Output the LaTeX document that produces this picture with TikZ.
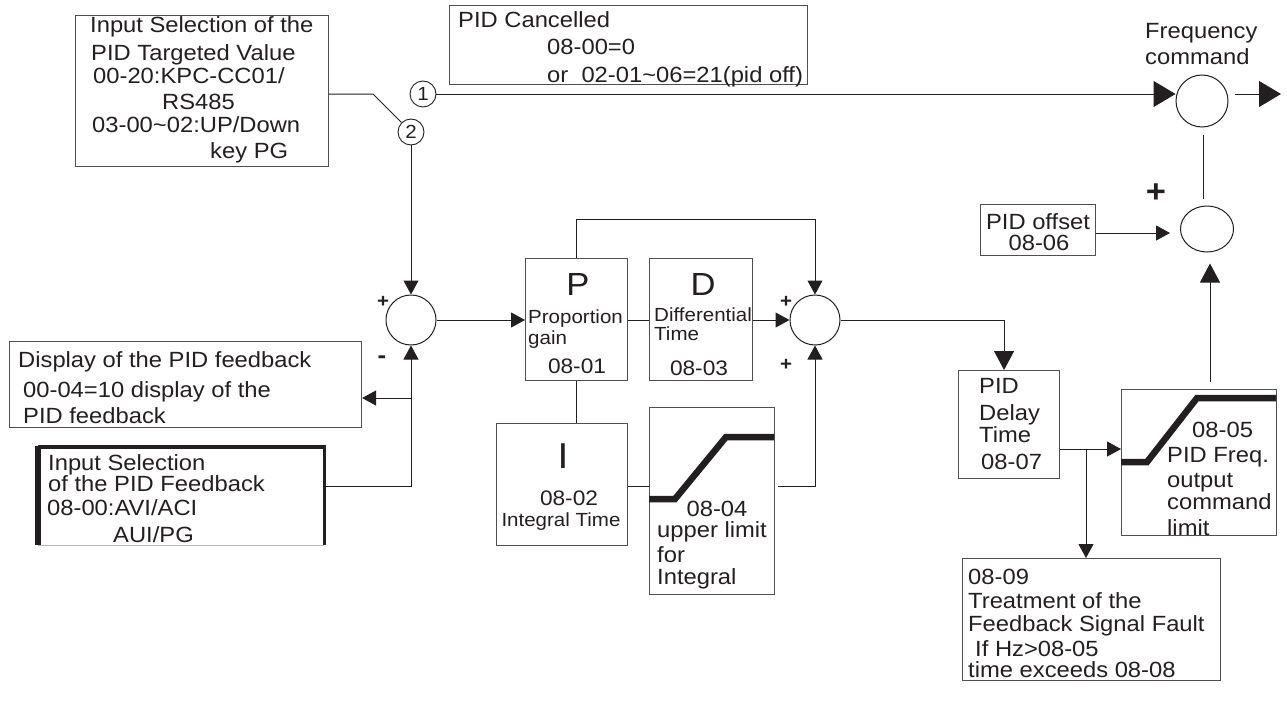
\documentclass[tikz,border=0pt]{standalone}
\usepackage{fontspec}
\setmainfont{Liberation Sans}[FakeStretch=1.08]
\usetikzlibrary{arrows.meta,shapes.geometric,calc}
\definecolor{ink}{HTML}{231F20}
\definecolor{edge}{HTML}{505050}
\begin{document}
\begin{tikzpicture}[x=1pt,y=-1pt,
  box/.style={draw=edge,line width=1.1pt,inner sep=0pt,anchor=north west},
  txt/.style={inner sep=0pt,anchor=base west,text=ink,font=\fontsize{22}{25}\selectfont},
  txtc/.style={txt,anchor=base},
  ln/.style={draw=ink,line width=1pt},
  arr/.style={ln,-{Triangle[length=14pt,width=15pt]}},
  midarr/.style={ln,-{Triangle[length=19pt,width=20pt]}},
  bigarr/.style={ln,-{Triangle[length=22pt,width=26pt]}},
  junc/.style={circle,draw=ink,line width=1pt,minimum size=50pt,inner sep=0pt},
  cnum/.style={circle,draw=ink,line width=0.9pt,minimum size=26pt,inner sep=0pt,text=ink,font=\fontsize{19}{19}\selectfont},
  limline/.style={draw=ink,line width=6.5pt},
  sgn/.style={inner sep=0pt,text=ink,font=\bfseries\fontsize{19}{19}\selectfont},
  bigletter/.style={txtc,font=\fontsize{32}{32}\selectfont},
]
\useasboundingbox (0,0) rectangle (1287,701);

% ---------- boxes ----------
\node[box,minimum width=253pt,minimum height=151pt] (tgt) at (75,15) {};
\node[box,minimum width=358pt,minimum height=79pt] (can) at (449,5) {};
\node[box,minimum width=352pt,minimum height=86pt] (disp) at (9,341) {};
\node[inner sep=0pt,anchor=north west,minimum width=286pt,minimum height=98pt] (fb) at (38,447) {};
\node[box,minimum width=102pt,minimum height=122pt] (P) at (525,258) {};
\node[box,minimum width=103pt,minimum height=122pt] (D) at (649,258) {};
\node[box,minimum width=131pt,minimum height=122pt] (I) at (496,423) {};
\node[box,minimum width=125pt,minimum height=187pt] (limI) at (649,407) {};
\node[box,minimum width=115pt,minimum height=51pt] (off) at (980,204) {};
\node[box,minimum width=101pt,minimum height=108pt] (delay) at (958,370) {};
\node[box,minimum width=155pt,minimum height=146pt] (lim) at (1121,389) {};
\node[box,minimum width=258pt,minimum height=122pt] (fault) at (962,558) {};

% feedback box edges
\draw[draw=gray!55,line width=1pt] (fb.south west) -- (fb.south east);
\draw[draw=ink,line width=3.5pt] (fb.south east) -- (fb.north east) -- (fb.north west);
\draw[draw=ink,line width=6.5pt] ($(fb.north west)+(0,-1.5)$) -- (fb.south west);

% ---------- junctions ----------
\node[junc] (sum1) at (411,320) {};
\node[junc] (sum3) at (815,320) {};
\node[junc,minimum size=52pt] (freq) at (1202,101) {};
\node[ellipse,draw=ink,line width=1pt,minimum width=53pt,minimum height=46pt,inner sep=0pt] (sum2) at (1207,229) {};
\node[cnum] (c1) at (423,94) {1};
\node[cnum] (c2) at (411,132) {2};

% ---------- limiter curves ----------
\draw[limline] (649,499) -- (675,499) -- (726,437) -- (774,437);
\draw[limline] (1121,462) -- (1147,462) -- (1197,398) -- (1276,398);

% ---------- texts ----------
\node[txt] (t1) at (90,33) {Input Selection of the};
\node[txt] (t2) at (91,60) {PID Targeted Value};
\node[txt] (t3) at (93,83) {00-20:KPC-CC01/};
\node[txt] (t4) at (162,109) {RS485};
\node[txt] (t5) at (92,132) {03-00\textasciitilde02:UP/Down};
\node[txt] (t6) at (210,158) {key PG};

\node[txt] (k1) at (458,28) {PID Cancelled};
\node[txt] (k2) at (547,55) {08-00=0};
\node[txt] (k3) at (547,82) {or\ \ 02-01\textasciitilde06=21(pid off)};

\node[txt] (f1) at (1145,38) {Frequency};
\node[txt] (f2) at (1145,65) {command};

\node[txt] (d1) at (18,367) {Display of the PID feedback};
\node[txt] (d2) at (23,397) {00-04=10 display of the};
\node[txt] (d3) at (23,423) {PID feedback};

\node[txt] (b1) at (48,470) {Input Selection};
\node[txt] (b2) at (48,491) {of the PID Feedback};
\node[txt] (b3) at (47,515) {08-00:AVI/ACI};
\node[txt] (b4) at (113,542) {AUI/PG};

\node[bigletter] (pP) at (578,295) {P};
\node[txt,font=\fontsize{19}{22}\selectfont] (p1) at (528,323) {Proportion};
\node[txt,font=\fontsize{19}{22}\selectfont] (p2) at (528,344) {gain};
\node[txtc,font=\fontsize{21}{24}\selectfont] (p3) at (577,373) {08-01};

\node[bigletter] (dD) at (703,295) {D};
\node[txt,font=\fontsize{19}{22}\selectfont] (q1) at (654,321) {Differential};
\node[txt,font=\fontsize{19}{22}\selectfont] (q2) at (654,340) {Time};
\node[txtc,font=\fontsize{21}{24}\selectfont] (q3) at (699,375) {08-03};

\node[bigletter,font=\fontsize{36}{36}\selectfont] (iI) at (563,468) {I};
\node[txtc,font=\fontsize{21}{24}\selectfont] (i1) at (569,505) {08-02};
\node[txtc,font=\fontsize{19}{22}\selectfont] (i2) at (561,526) {Integral Time};

\node[txtc] (l1) at (717,516) {08-04};
\node[txt] (l2) at (657,537) {upper limit};
\node[txt] (l3) at (657,562) {for};
\node[txt] (l4) at (657,584) {Integral};

\node[txtc] (o1) at (1038,229) {PID offset};
\node[txtc] (o2) at (1039,250) {08-06};

\node[txt] (y1) at (979,393) {PID};
\node[txt] (y2) at (979,420) {Delay};
\node[txt] (y3) at (979,442) {Time};
\node[txt] (y4) at (981,469) {08-07};

\node[txt] (m1) at (1192,437) {08-05};
\node[txt] (m2) at (1167,462) {PID Freq.};
\node[txt] (m3) at (1167,487) {output};
\node[txt] (m4) at (1167,509) {command};
\node[txt] (m5) at (1167,535) {limit};

\node[txt] (g1) at (968,584) {08-09};
\node[txt] (g2) at (968,608) {Treatment of the};
\node[txt] (g3) at (968,631) {Feedback Signal Fault};
\node[txt] (g4) at (975,656) {If Hz>08-05};
\node[txt] (g5) at (968,677) {time exceeds 08-08};

% signs
\node[sgn] (s1) at (383,302) {+};
\node[sgn,font=\bfseries\fontsize{24}{24}\selectfont] (s2) at (382,360) {-};
\node[sgn] (s3) at (786,302) {+};
\node[sgn] (s4) at (786,365) {+};
\node[sgn,font=\bfseries\fontsize{32}{32}\selectfont] (s5) at (1156,193) {+};

% ---------- connectors ----------
\coordinate (sw) at (373,94);
\draw[ln] (c1 -| tgt.east) -- (sw) -- (c2.135);
\draw[bigarr] (c1.east) -- (c1.east -| freq.west);
\coordinate (fout) at (1281,94);
\draw[bigarr] ($(freq.east |- c1)+(6,0)$) -- (fout);
\draw[ln] ($(freq.south)+(1,7)$) -- ($(freq.south |- sum2.north)+(1,-7)$);

\draw[arr] (c2.south) -- (sum1.north);
\coordinate (fbj) at (411,486);
\draw[arr] (fb.east |- fbj) -- (fbj) -- (sum1.south);
\coordinate (dj) at (411,398);
\draw[arr] (dj) -- (dj -| disp.east);

\draw[arr] (sum1.east) -- (sum1.east -| P.west);
\draw[ln] (P.east |- sum1) -- (D.west |- sum1);
\draw[arr] (D.east |- sum3) -- (sum3.west);
\draw[arr] (P.north) -- ++(0,-39) -| (sum3.north);
\draw[ln] (P.south) -- (P.south |- I.north);
\draw[ln] (I.east |- fbj) -- (limI.west |- fbj);
\draw[arr] ($(limI.east |- fbj)+(3,0)$) -| (sum3.south);

\draw[midarr] (sum3.east) -| ($(delay.north)+(-5,0)$);
\coordinate (br) at (1086,449);
\draw[arr] (delay.east |- br) -- (br -| lim.west);
\draw[arr] (br) -- (br |- fault.north);

\draw[midarr] ($(lim.north -| sum2.south)+(3,-7)$) -- ($(sum2.south)+(3,11)$);
\draw[arr] (off.east |- 0,233) -- ($(sum2.west |- 0,233)+(-10,0)$);
\end{tikzpicture}
\end{document}
